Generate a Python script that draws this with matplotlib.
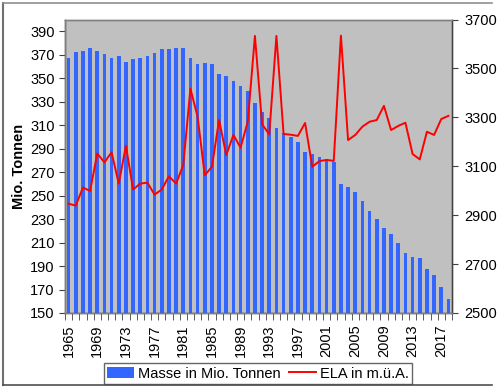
import matplotlib
matplotlib.use('Agg')
import matplotlib.pyplot as plt
from matplotlib.lines import Line2D
from matplotlib.patches import Patch

plt.rcParams['font.family'] = ['Liberation Sans', 'DejaVu Sans']

# Data
years = list(range(1965, 2019))
masse = [367, 372.5, 373, 376, 373, 371, 367, 368.5, 363.5, 366,
         367.5, 368.5, 371.5, 374.5, 374.5, 376, 375.7, 367, 362.5, 363,
         361.7, 354, 351.5, 347.4, 343.7, 338.7, 329, 321, 316.5, 307.5,
         303.2, 300, 295.7, 287, 285.2, 283, 280.8, 278.6, 260.3, 256.9,
         252.8, 245.6, 237, 230.2, 222.5, 217.1, 209.7, 201.1, 198, 196.6,
         187.4, 182, 172.3, 162.3]
ela = [2947, 2939, 3013, 2999, 3152, 3116, 3157, 3029, 3184, 3005,
       3029, 3033, 2984, 3005, 3059, 3029, 3105, 3417, 3303, 3063,
       3098, 3289, 3146, 3228, 3176, 3282, 3633, 3272, 3230, 3633,
       3232, 3229, 3224, 3277, 3098, 3121, 3126, 3122, 3634, 3207,
       3228, 3262, 3282, 3289, 3347, 3248, 3265, 3278, 3150, 3128,
       3241, 3228, 3293, 3306]
label_years = list(range(1965, 2019, 4))

fig = plt.figure(figsize=(5.0, 3.88), dpi=100)
W, H = 500.0, 388.0
ax = fig.add_axes([65 / W, 1 - 313 / H, (452 - 65) / W, (313 - 19.5) / H])
ax.set_facecolor('#C0C0C0')

ax.bar(years, masse, width=0.5, color='#3366FF', zorder=2)
ax.set_xlim(1964.5, 2018.5)
ax.set_ylim(150, 400)
ax.set_yticks(range(150, 391, 20))
ax.tick_params(axis='y', direction='out', length=4, labelsize=10.5, colors='#404040',
               labelcolor='black')
ax.set_xticks(label_years)
ax.set_xticklabels([str(y) for y in label_years], rotation=90, fontsize=10.5)
ax.set_xticks([y - 0.5 for y in years] + [2018.5], minor=True)
ax.tick_params(axis='x', which='major', length=0, pad=8)
ax.tick_params(axis='x', which='minor', direction='out', length=5, colors='#404040')
ax.set_ylabel('Mio. Tonnen', fontsize=10.5, fontweight='bold')
ax.yaxis.set_label_coords((26 - 65) / (452 - 65), 0.5)

ax2 = ax.twinx()
ax2.plot(years, ela, color='#FF0000', lw=1.4, zorder=3)
ax2.set_ylim(2500, 3700)
ax2.set_yticks(range(2500, 3701, 200))
ax2.tick_params(axis='y', direction='out', length=4, labelsize=10.5, colors='#404040',
                labelcolor='black', pad=5)

for a in (ax, ax2):
    for s in a.spines.values():
        s.set_color('#808080')
        s.set_linewidth(1)
ax.spines['left'].set_color('#404040')
ax.spines['bottom'].set_color('#404040')
ax2.spines['right'].set_color('#404040')

handles = [Patch(facecolor='#3366FF', edgecolor='none'),
           Line2D([], [], color='#FF0000', lw=1.4)]
leg = fig.legend(handles, ['Masse in Mio. Tonnen', 'ELA in m.ü.A.'], ncol=2,
                 loc='center', bbox_to_anchor=(258 / W, 1 - 373.5 / H), fontsize=10.5,
                 frameon=True, fancybox=False, handlelength=1.8, handletextpad=0.3,
                 columnspacing=0.6, borderpad=0.25, borderaxespad=0)
leg.get_frame().set_edgecolor('#404040')
leg.get_frame().set_linewidth(1)

# outer frame of the chart
fig.add_artist(Line2D([3 / W, 3 / W], [1 - 3 / H, 1 - 385 / H], color='#707070', lw=1.5))
fig.add_artist(Line2D([3 / W, 492 / W], [1 - 3 / H, 1 - 3 / H], color='#909090', lw=1.2))
fig.add_artist(Line2D([3 / W, 492 / W], [1 - 385 / H, 1 - 385 / H], color='#505050', lw=1.2))

fig.savefig('out.png', dpi=100)
